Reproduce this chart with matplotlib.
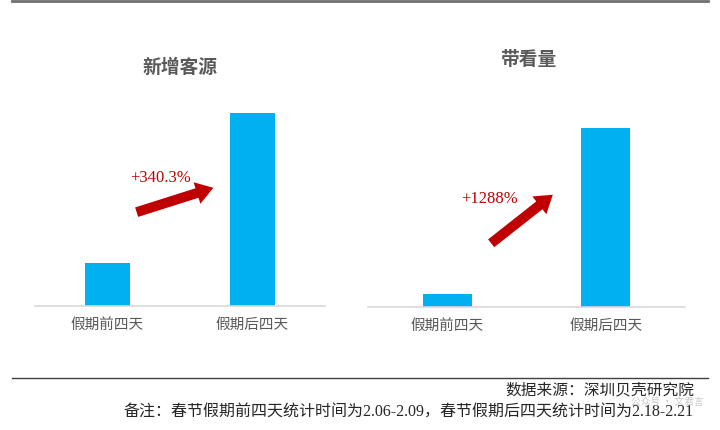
import matplotlib
matplotlib.use("Agg")
import matplotlib.pyplot as plt
from matplotlib.patches import FancyArrowPatch
from matplotlib.lines import Line2D

plt.rcParams['font.family'] = ['Noto Sans CJK SC', 'DejaVu Sans']

categories = ['假期前四天', '假期后四天']
new_clients = [43, 193]
viewings = [13, 179]
titles = ['新增客源', '带看量']
growth_labels = ['+340.3%', '+1288%']
source_text = '数据来源：深圳贝壳研究院'
note_text = '备注：春节假期前四天统计时间为2.06-2.09，春节假期后四天统计时间为2.18-2.21'

W, H = 720, 431
fig = plt.figure(figsize=(W / 100, H / 100), dpi=100)

def px(x, y):
    return x / W, 1 - y / H

bar_color = '#00B0F0'
text_gray = '#595959'
red = '#C00000'

def make_axes(x0, x1, ybase, values):
    ax = fig.add_axes([x0 / W, (H - ybase) / H, (x1 - x0) / W, 207 / H])
    ax.bar(range(len(categories)), values, width=0.31, color=bar_color)
    ax.set_xlim(-0.5, 1.5)
    ax.set_ylim(0, 207)
    ax.set_xticks(range(len(categories)))
    ax.set_xticklabels(categories, fontsize=10.5, color=text_gray)
    ax.tick_params(axis='x', length=0, pad=8)
    ax.set_yticks([])
    for s in ['top', 'right', 'left']:
        ax.spines[s].set_visible(False)
    ax.spines['bottom'].set_color('#D9D9D9')
    ax.spines['bottom'].set_linewidth(1.2)
    return ax

ax1 = make_axes(35, 325, 307, new_clients)
ax2 = make_axes(368, 685, 308, viewings)

fig.text(*px(180, 67), titles[0], ha='center', va='center', fontsize=13.5,
         fontweight='bold', color=text_gray)
fig.text(*px(528, 60), titles[1], ha='center', va='center', fontsize=13.5,
         fontweight='bold', color=text_gray)

for (tail, tip) in [((134, 214), (216, 188)), ((489, 246), (555, 194))]:
    arr = FancyArrowPatch(px(*tail), px(*tip), transform=fig.transFigure,
                          arrowstyle='simple,head_length=0.95,head_width=1.25,tail_width=0.55',
                          mutation_scale=13, color=red, lw=0)
    fig.patches.append(arr)

serif = ['Liberation Serif', 'Noto Sans CJK SC']
fig.text(*px(161, 178), growth_labels[0], ha='center', va='center', fontsize=12,
         color=red, family=serif)
fig.text(*px(490, 199), growth_labels[1], ha='center', va='center', fontsize=12,
         color=red, family=serif)

fig.lines.append(Line2D([12 / W, 708 / W], [1 - 1.5 / H, 1 - 1.5 / H],
                        transform=fig.transFigure, color='#707070', lw=2))
fig.lines.append(Line2D([12 / W, 708 / W], [1 - 379 / H, 1 - 379 / H],
                        transform=fig.transFigure, color='#404040', lw=1))

foot_font = ['Liberation Serif', 'Noto Sans CJK SC']
fig.text(*px(694, 390), source_text, ha='right', va='center', fontsize=11.3,
         color='#262626', family=foot_font)
fig.text(*px(694, 413), note_text, ha='right', va='center', fontsize=11.5,
         color='#262626', family=foot_font)

fig.text(*px(704, 401.5), '公众号 · 文君言', ha='right', va='center', fontsize=7,
         color='#BBBBBB', alpha=0.8)

fig.savefig('out.png', dpi=100)
